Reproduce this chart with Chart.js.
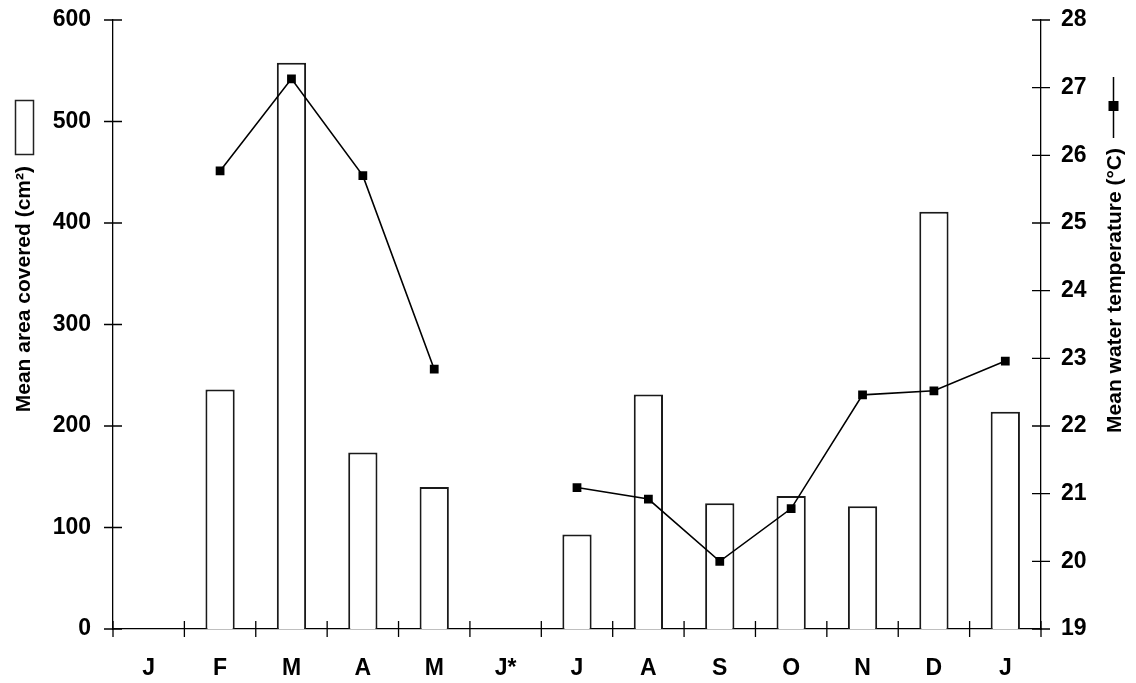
<!DOCTYPE html>
<html>
<head>
<meta charset="utf-8">
<script src="https://cdn.jsdelivr.net/npm/chart.js@4/dist/chart.umd.min.js"></script>
<style>
  html, body { margin: 0; padding: 0; background: #fff; }
  #wrap { width: 1136px; height: 683px; }
</style>
</head>
<body>
<div id="wrap"><canvas id="c" width="1136" height="683"></canvas></div>
<script>
// Months of sampling (J* = month without sampling)
const months = ['J', 'F', 'M', 'A', 'M', 'J*', 'J', 'A', 'S', 'O', 'N', 'D', 'J'];
// Mean area covered per month (cm²)
const areaCovered = [null, 236, 558, 174, 140, null, 93, 231, 124, 131, 121, 411, 214];
// Mean water temperature per month (°C)
const waterTemp = [null, 25.77, 27.13, 25.70, 22.84, null, 21.09, 20.92, 20.0, 20.78, 22.46, 22.52, 22.96];
// Axis ranges
const areaTicks = { min: 0, max: 600, step: 100 };
const tempTicks = { min: 19, max: 28, step: 1 };

const FONT = "'Liberation Sans', Arial, Helvetica, sans-serif";
const INK = '#000';

// Tick marks that cross the axis lines on both sides
const crossTicks = {
  id: 'crossTicks',
  afterDraw(chart) {
    const ctx = chart.ctx;
    const area = chart.chartArea;
    ctx.save();
    ctx.strokeStyle = INK;
    ctx.lineWidth = 1.3;
    ctx.beginPath();
    const yl = chart.scales.y;
    yl.ticks.forEach((t, i) => {
      const y = yl.getPixelForTick(i);
      ctx.moveTo(area.left - 9, y); ctx.lineTo(area.left + 9, y);
    });
    const yr = chart.scales.y1;
    yr.ticks.forEach((t, i) => {
      const y = yr.getPixelForTick(i);
      ctx.moveTo(area.right - 9, y); ctx.lineTo(area.right + 9, y);
    });
    const xs = chart.scales.x;
    const n = months.length;
    const half = (xs.getPixelForValue(1) - xs.getPixelForValue(0)) / 2;
    for (let i = 0; i <= n; i++) {
      const x = (i < n ? xs.getPixelForValue(i) : xs.getPixelForValue(n - 1) + 2 * half) - half;
      ctx.moveTo(x, area.bottom - 8); ctx.lineTo(x, area.bottom + 8);
    }
    ctx.stroke();
    ctx.restore();
  }
};

// Rotated axis titles with their key symbols
const axisTitles = {
  id: 'axisTitles',
  afterDraw(chart) {
    const ctx = chart.ctx;
    ctx.save();
    ctx.fillStyle = INK;
    ctx.font = 'bold 21px ' + FONT;
    const vText = (text, cx, topY) => {
      ctx.save();
      ctx.translate(cx, topY);
      ctx.rotate(-Math.PI / 2);
      ctx.textAlign = 'right';
      ctx.textBaseline = 'middle';
      ctx.fillText(text, 0, 0);
      ctx.restore();
    };
    vText('Mean area covered (cm²)', 24, 166);
    vText('Mean water temperature (°C)', 1115, 148);

    // open box key for the bars
    ctx.strokeStyle = '#222';
    ctx.lineWidth = 1.5;
    ctx.strokeRect(15.5, 100.5, 18, 54);

    // line-and-square key for the temperature series
    ctx.strokeStyle = INK;
    ctx.lineWidth = 1.5;
    ctx.beginPath();
    ctx.moveTo(1113.5, 77); ctx.lineTo(1113.5, 138);
    ctx.stroke();
    ctx.fillRect(1108.5, 101, 10, 10);
    ctx.restore();
  }
};

// fixed axis band sizes so the plot area sits where it should
function fixVertical(width) {
  return function (scale) {
    scale.width = width;
    scale.paddingTop = 0;
    scale.paddingBottom = 0;
  };
}

new Chart(document.getElementById('c'), {
  data: {
    labels: months,
    datasets: [
      {
        type: 'line',
        label: 'Mean water temperature (°C)',
        data: waterTemp,
        yAxisID: 'y1',
        order: 0,
        borderColor: INK,
        borderWidth: 1.6,
        tension: 0,
        spanGaps: false,
        pointStyle: 'rect',
        pointRadius: 6.2,
        pointHoverRadius: 6.2,
        pointBackgroundColor: INK,
        pointBorderColor: INK,
        pointBorderWidth: 0
      },
      {
        type: 'bar',
        label: 'Mean area covered (cm²)',
        data: areaCovered,
        yAxisID: 'y',
        order: 1,
        backgroundColor: '#fff',
        borderColor: '#1a1a1a',
        borderWidth: 2,
        borderSkipped: 'start',
        categoryPercentage: 1,
        barPercentage: 0.41
      }
    ]
  },
  options: {
    responsive: false,
    animation: false,
    devicePixelRatio: 1,
    layout: { padding: { top: 20, left: 0, right: 0, bottom: 0 } },
    plugins: {
      legend: { display: false },
      tooltip: { enabled: false },
      title: { display: false }
    },
    scales: {
      x: {
        type: 'category',
        offset: true,
        grid: { display: false, drawTicks: false },
        border: { display: true, color: INK, width: 1.3 },
        ticks: {
          color: INK,
          padding: 26,
          maxRotation: 0,
          autoSkip: false,
          font: { family: FONT, size: 23, weight: 'bold' }
        },
        afterFit(scale) { scale.height = 54; scale.paddingLeft = 0; scale.paddingRight = 0; }
      },
      y: {
        position: 'left',
        min: areaTicks.min,
        max: areaTicks.max,
        grid: { display: false, drawTicks: false },
        border: { display: true, color: INK, width: 1.3 },
        ticks: {
          stepSize: areaTicks.step,
          color: INK,
          padding: 22,
          font: { family: FONT, size: 23, weight: 'bold' }
        },
        afterFit: fixVertical(113)
      },
      y1: {
        position: 'right',
        min: tempTicks.min,
        max: tempTicks.max,
        grid: { display: false, drawTicks: false },
        border: { display: true, color: INK, width: 1.3 },
        ticks: {
          stepSize: tempTicks.step,
          color: INK,
          padding: 20,
          font: { family: FONT, size: 23, weight: 'bold' }
        },
        afterFit: fixVertical(95)
      }
    }
  },
  plugins: [crossTicks, axisTitles]
});
</script>
</body>
</html>
